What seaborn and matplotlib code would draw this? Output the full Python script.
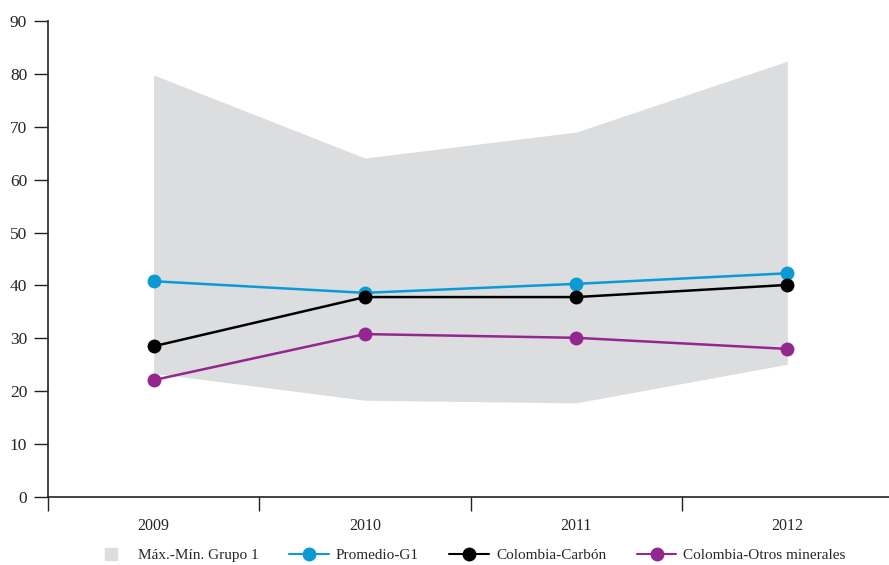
import numpy as np
import pandas as pd
import matplotlib
matplotlib.use("Agg")
import matplotlib.pyplot as plt
import seaborn as sns
from matplotlib.lines import Line2D

# Data
years = ["2009", "2010", "2011", "2012"]
grupo_max = [79.8, 64.1, 69.0, 82.4]
grupo_min = [23.4, 18.3, 17.8, 25.1]
promedio_g1 = [40.8, 38.6, 40.3, 42.3]
colombia_carbon = [28.5, 37.8, 37.8, 40.1]
colombia_otros = [22.1, 30.8, 30.1, 28.0]

series_names = ["Promedio-G1", "Colombia-Carbón", "Colombia-Otros minerales"]
series_colors = ["#0a9bd6", "#000000", "#93278f"]
band_color = "#dcdddf"

sns.set_theme(style="white")
plt.rcParams['font.family'] = ['Liberation Serif', 'DejaVu Serif']

x = np.arange(len(years))
df = pd.DataFrame({
    "x": np.tile(x, 3),
    "valor": promedio_g1 + colombia_carbon + colombia_otros,
    "serie": np.repeat(series_names, len(years)),
})

fig = plt.figure(figsize=(8.89, 5.65), dpi=100)
ax = fig.add_axes([48 / 889, 1 - 497 / 565, 845 / 889, 476 / 565])

# Max-min band
ax.fill_between(x, grupo_min, grupo_max, color=band_color, linewidth=0, zorder=1)

sns.lineplot(data=df, x="x", y="valor", hue="serie", hue_order=series_names,
             palette=series_colors, marker="o", markersize=10, markeredgewidth=0,
             linewidth=1.8, legend=False, ax=ax, zorder=3)

ax.set_xlim(-0.5, 3.5)
ax.set_ylim(0, 90)
ax.set_yticks(range(0, 91, 10))
ax.set_yticklabels([str(v) for v in range(0, 91, 10)], fontsize=12.5)
ax.set_xticks(x)
ax.set_xticklabels(years, fontsize=11.5)
ax.set_xticks(np.arange(-0.5, 3.6, 1.0), minor=True)
ax.tick_params(axis="x", which="major", bottom=False, length=0, pad=15)
ax.tick_params(axis="x", which="minor", bottom=True, length=10, width=1,
               color="#222222", direction="out")
ax.tick_params(axis="y", left=True, length=10, width=1, color="#222222",
               direction="out", pad=5)
ax.set_xlabel("")
ax.set_ylabel("")

for side in ["top", "right"]:
    ax.spines[side].set_visible(False)
for side in ["left", "bottom"]:
    ax.spines[side].set_color("#222222")
    ax.spines[side].set_linewidth(1.2)

handles = [Line2D([0], [0], color=band_color, marker="s", markersize=9,
                  linestyle="none", label="Máx.-Mín. Grupo 1")]
for name, col in zip(series_names, series_colors):
    handles.append(Line2D([0], [0], color=col, marker="o", markersize=10,
                          markeredgewidth=0, linewidth=1.5, label=name))
fig.legend(handles=handles, loc="center", bbox_to_anchor=(0.527, 1 - 555 / 565),
           ncol=4, frameon=False, fontsize=11, handlelength=2.6,
           columnspacing=2.0, handletextpad=0.45)

fig.savefig("out.png", dpi=100)
